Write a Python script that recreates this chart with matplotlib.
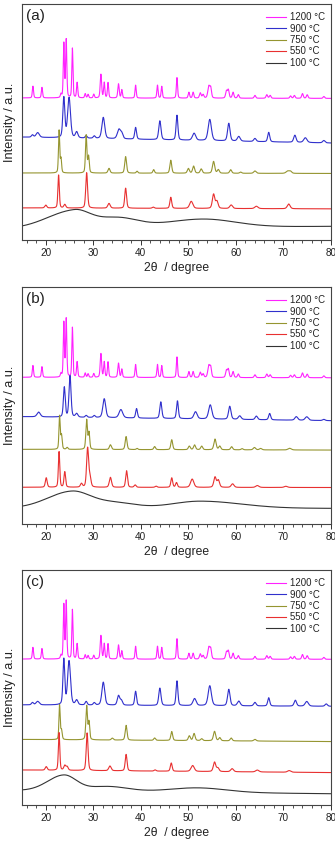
import numpy as np
import matplotlib
matplotlib.use("Agg")
import matplotlib.pyplot as plt
from matplotlib.ticker import MultipleLocator

plt.rcParams['font.family'] = ['Liberation Sans', 'DejaVu Sans']

# ---------------- data ----------------
labels = ["1200 °C", "900 °C", "750 °C", "550 °C", "100 °C"]
colors = ["#ff22ff", "#3030cc", "#959530", "#e83030", "#333333"]
panel_tags = ["(a)", "(b)", "(c)"]

# crystalline peaks: (2theta, height above baseline, fwhm)
peaks_1200 = [(17.3, 5, 0.3), (19.2, 4.5, 0.3), (23.2, 1.5, 0.3), (23.8, 23, 0.28),
              (24.3, 24.5, 0.3), (25.6, 21, 0.28), (26.6, 6.5, 0.3), (28.3, 1.8, 0.3),
              (28.9, 1.5, 0.3), (30.1, 1.6, 0.3), (31.6, 10, 0.35), (32.3, 6.5, 0.3),
              (33.1, 6.5, 0.3), (35.3, 6, 0.35), (36.0, 3.5, 0.3), (38.9, 5.5, 0.3),
              (43.5, 5.5, 0.3), (44.4, 5, 0.3), (47.6, 8.7, 0.3), (50.1, 2.5, 0.35),
              (51.0, 2.5, 0.35), (52.5, 2.2, 0.4), (53.1, 1.5, 0.4), (54.3, 5, 0.5),
              (54.7, 4, 0.4), (58.0, 3, 0.4), (58.4, 3.5, 0.4), (59.4, 2.5, 0.4),
              (60.5, 1.5, 0.4), (64.0, 1.2, 0.4), (66.5, 1.5, 0.4), (67.2, 1.2, 0.4),
              (71.5, 1.0, 0.4), (72.3, 1.2, 0.4), (74.0, 2.0, 0.4), (75.0, 1.5, 0.4),
              (78.5, 0.8, 0.4)]

a_900 = [(17.2, 1.0, 0.5), (18.3, 2.0, 0.8), (23.8, 17, 0.5), (24.9, 17, 0.7),
         (26.5, 2.5, 0.6), (28.5, 1.0, 0.5), (30.2, 1.0, 0.5), (32.1, 9, 0.7),
         (35.4, 4, 0.8), (36.0, 2, 0.6), (38.9, 5, 0.45), (44.0, 8, 0.55),
         (47.6, 10.5, 0.45), (51.2, 3, 0.8), (54.5, 9, 0.8), (58.5, 7.5, 0.6),
         (60.6, 2, 0.7), (64.0, 1.3, 0.6), (66.9, 4, 0.5), (72.4, 3, 0.6),
         (74.6, 2, 0.8), (78.5, 1, 0.6)]
a_750 = [(22.8, 18, 0.3), (23.2, 6, 0.3), (28.5, 16, 0.35), (29.0, 7, 0.35),
         (33.3, 2, 0.5), (36.8, 7, 0.45), (39.2, 0.8, 0.4), (42.7, 1.5, 0.4),
         (46.3, 5.5, 0.45), (50.0, 2, 0.5), (51.1, 3, 0.5), (52.7, 1.8, 0.5),
         (55.3, 5, 0.55), (56.3, 1.5, 0.5), (58.9, 1.5, 0.5), (61.0, 0.5, 0.5),
         (64.0, 1.0, 0.6), (70.9, 1.0, 0.8), (71.5, 0.8, 0.6)]
a_550 = [(20.0, 1.2, 0.5), (22.7, 14, 0.35), (24.0, 1.5, 0.5), (28.6, 15, 0.45),
         (33.3, 2, 0.6), (36.8, 8.5, 0.45), (42.6, 0.5, 0.5), (46.3, 4.7, 0.45),
         (50.6, 3, 0.8), (55.3, 6, 0.6), (56.0, 3, 0.6), (59.0, 1.5, 0.7),
         (64.3, 1.0, 0.8), (71.1, 2.0, 0.7)]

b_900 = [(18.5, 2, 0.8), (23.9, 12.6, 0.45), (25.1, 17.5, 0.5), (26.5, 1.5, 0.6),
         (28.5, 0.8, 0.5), (30.2, 0.8, 0.5), (32.3, 8, 0.7), (35.8, 3.5, 0.9),
         (39.1, 4, 0.45), (44.2, 7, 0.5), (47.7, 7.5, 0.45), (51.5, 3, 0.8),
         (54.6, 6, 0.8), (58.7, 5.5, 0.6), (60.8, 1.5, 0.7), (64.3, 1.5, 0.6),
         (67.1, 2.7, 0.5), (72.7, 1.5, 0.7), (74.9, 1.5, 0.8), (78.5, 0.5, 0.6)]
b_750 = [(22.9, 14, 0.3), (23.3, 6, 0.35), (24.5, 0.8, 0.4), (28.6, 12.5, 0.4),
         (29.1, 7, 0.35), (33.6, 2, 0.5), (36.9, 5.5, 0.45), (39.2, 0.5, 0.4),
         (42.9, 1.3, 0.45), (46.5, 4.2, 0.45), (50.2, 1.5, 0.5), (51.3, 2, 0.5),
         (52.8, 1.5, 0.5), (55.6, 4.5, 0.55), (56.6, 1.5, 0.5), (59.1, 1.3, 0.5),
         (61.3, 0.5, 0.5), (63.9, 1.0, 0.6), (65.2, 0.6, 0.6), (71.3, 0.7, 0.8)]
b_550 = [(20.1, 4, 0.45), (22.8, 15, 0.35), (24.0, 6.5, 0.4), (27.5, 1.5, 0.5),
         (28.8, 16.5, 0.5), (29.3, 4, 0.5), (33.6, 4.2, 0.55), (37.0, 7, 0.45),
         (38.8, 1.0, 0.5), (43.2, 0.5, 0.5), (46.5, 4, 0.45), (47.5, 2, 0.45),
         (50.8, 3.5, 0.8), (55.6, 4.3, 0.6), (56.3, 3, 0.6), (59.3, 1.5, 0.7),
         (64.5, 0.8, 0.8), (70.5, 0.5, 0.8)]

c_900 = [(17.2, 1.0, 0.5), (18.3, 1.5, 0.8), (23.8, 19.4, 0.45), (24.9, 18.7, 0.7),
         (26.5, 2, 0.6), (28.5, 1.5, 0.5), (30.2, 1, 0.5), (32.1, 9.8, 0.7),
         (35.3, 4, 0.6), (35.9, 2, 0.6), (38.9, 6, 0.45), (44.0, 7.4, 0.55),
         (47.6, 10.5, 0.45), (51.3, 3, 0.8), (54.5, 8.5, 0.8), (58.5, 7, 0.6),
         (60.6, 2, 0.7), (64.0, 1.5, 0.6), (66.9, 3.5, 0.5), (72.5, 2.5, 0.6),
         (74.9, 2, 0.8), (79.0, 1, 0.6)]
c_750 = [(22.9, 14.7, 0.3), (23.3, 4, 0.35), (28.6, 14.4, 0.4), (29.1, 7.5, 0.35),
         (34.0, 0.8, 0.5), (36.9, 6.3, 0.45), (42.9, 1.0, 0.45), (46.5, 3.8, 0.45),
         (50.2, 2, 0.5), (51.2, 3, 0.5), (52.8, 0.8, 0.5), (55.5, 4, 0.55),
         (56.6, 1.3, 0.5), (59.0, 1.2, 0.5), (64.0, 0.7, 0.6)]
c_550 = [(20.1, 1.5, 0.5), (22.8, 16, 0.35), (24.0, 2, 0.5), (24.5, 1.5, 0.5),
         (28.7, 16, 0.45), (33.5, 2, 0.6), (36.9, 7, 0.45), (43.0, 0.5, 0.5),
         (46.4, 3.5, 0.45), (50.9, 2.5, 0.8), (55.5, 4, 0.6), (56.2, 1.5, 0.6),
         (59.2, 1.3, 0.7), (64.5, 0.8, 0.8), (71.2, 0.7, 0.8)]

# amorphous humps of the 100 °C samples: (centre, height, fwhm left, fwhm right)
a_100 = [(26.0, 7.5, 13.4, 7.8), (35.0, 4.2, 10, 10), (53.0, 3.5, 18, 16)]
b_100 = [(25.5, 7.0, 12, 9), (34.5, 2.3, 10, 10), (52.5, 3.0, 14, 20)]
c_100 = [(23.8, 6.6, 8, 6.1), (33.0, 2.1, 10, 10), (52.0, 1.9, 14, 14)]

# baselines (left, right) of each trace, in axis units (0-100)
a_base = [(60.2, 60.0), (43.6, 41.1), (28.4, 28.2), (13.6, 13.2), (4.8, 5.8)]
b_base = [(61.9, 61.7), (45.3, 43.6), (31.5, 31.2), (15.5, 15.4), (6.7, 6.6)]
c_base = [(62.1, 62.0), (42.6, 42.0), (27.9, 27.0), (14.9, 13.8), (6.2, 4.8)]

panel_peaks = [[peaks_1200, a_900, a_750, a_550],
               [peaks_1200, b_900, b_750, b_550],
               [peaks_1200, c_900, c_750, c_550]]
panel_humps = [a_100, b_100, c_100]
panel_bases = [a_base, b_base, c_base]

x_min, x_max = 15, 80
x_ticks = [20, 30, 40, 50, 60, 70, 80]

# ---------------- drawing ----------------
tt = np.linspace(x_min, x_max, 4000)


def pattern(peaks, base):
    y = base[0] + (base[1] - base[0]) * (tt - x_min) / (x_max - x_min)
    eta = 0.35
    for c, h, w in peaks:
        d = (tt - c) / (w / 2.0)
        g = np.exp(-np.log(2) * d ** 2)
        l = 1.0 / (1.0 + d ** 2)
        y = y + h * (eta * l + (1 - eta) * g)
    return y


def amorphous(humps, base):
    y = base[0] + (base[1] - base[0]) * (tt - x_min) / (x_max - x_min)
    for c, h, wl, wr in humps:
        s = np.where(tt < c, wl, wr) / 2.3548
        y = y + h * np.exp(-0.5 * ((tt - c) / s) ** 2)
    return y


W, H = 335, 842
fig = plt.figure(figsize=(W / 100, H / 100), dpi=100)
axes_px = [(4, 240), (287, 524), (570, 805)]
left_px, right_px = 22, 331

for k in range(3):
    top, bot = axes_px[k]
    ax = fig.add_axes([left_px / W, 1 - bot / H, (right_px - left_px) / W, (bot - top) / H])
    for i in range(4):
        ax.plot(tt, pattern(panel_peaks[k][i], panel_bases[k][i]), color=colors[i],
                lw=0.8, label=labels[i])
    ax.plot(tt, amorphous(panel_humps[k], panel_bases[k][4]), color=colors[4],
            lw=0.8, label=labels[4])
    ax.set_xlim(x_min, x_max)
    ax.set_ylim(0, 100)
    ax.set_xticks(x_ticks)
    ax.xaxis.set_minor_locator(MultipleLocator(2))
    ax.set_yticks([])
    ax.tick_params(axis='x', which='major', direction='out', length=3.5, width=0.7,
                   labelsize=7.2, pad=2, colors='#333333', labelcolor='#222222')
    ax.tick_params(axis='x', which='minor', direction='out', length=2, width=0.6,
                   colors='#333333')
    for sp in ax.spines.values():
        sp.set_color('#444444')
        sp.set_linewidth(0.8)
    ax.set_xlabel("2θ  / degree", fontsize=8.7, labelpad=3, color='#222222')
    ax.set_ylabel("Intensity / a.u.", fontsize=9.2, color='#222222')
    ax.yaxis.set_label_coords(-0.020, 0.5)
    ax.text(0.012, 0.978, panel_tags[k], transform=ax.transAxes, ha='left', va='top',
            fontsize=11, color='#222222')
    leg = ax.legend(loc='upper right', bbox_to_anchor=(1.0, 0.99), frameon=False,
                    fontsize=6.9, handlelength=2.1, handletextpad=0.4,
                    labelspacing=0.15, borderaxespad=0.2)
    for t in leg.get_texts():
        t.set_color('#222222')

fig.savefig("out.png", dpi=100)
